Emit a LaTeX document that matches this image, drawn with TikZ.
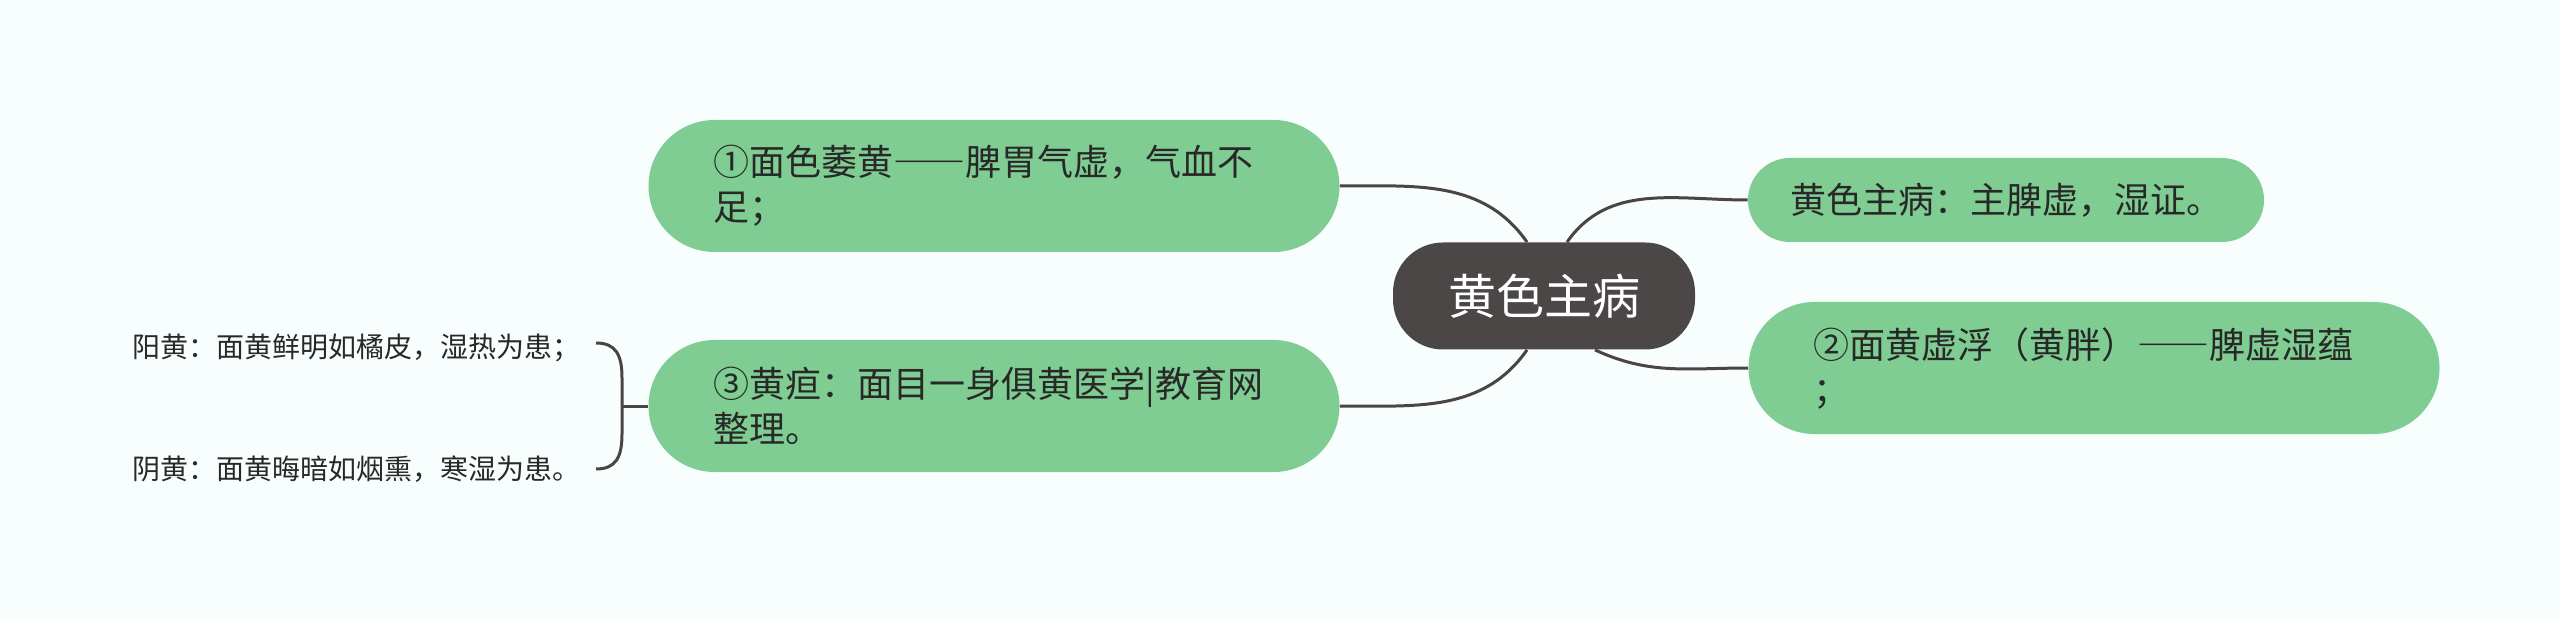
\documentclass[tikz,border=0pt]{standalone}
\usepackage{fontspec}
\setmainfont{Noto Sans CJK SC}
\newcommand{\fwdash}{{\addfontfeature{CharacterWidth=Full}——}}
\definecolor{bgc}{RGB}{248,254,254}
\definecolor{leafgreen}{RGB}{127,205,146}
\definecolor{rootgray}{RGB}{76,71,71}
\definecolor{inkc}{RGB}{40,40,40}
\definecolor{linec}{RGB}{74,68,68}
\tikzset{
  rootblk/.style={draw=none,fill=rootgray,text=white,rounded corners=25pt,minimum width=151pt,minimum height=53.5pt,font=\fontsize{24}{28}\selectfont},
  subblk/.style={draw=none,fill=leafgreen,text=inkc,font=\fontsize{18}{22.5}\selectfont},
  wideblk/.style={subblk,text width=280.5pt,align=left,inner xsep=32.5pt,minimum height=66pt,rounded corners=33pt},
  shortblk/.style={subblk,inner xsep=21pt,minimum height=42pt,rounded corners=21pt},
  leaf/.style={anchor=west,inner sep=0pt,text=inkc,font=\fontsize{14}{16}\selectfont},
  link/.style={draw=linec,line width=1.5pt}
}

\begin{document}
\begin{tikzpicture}[x=0.5pt,y=-0.5pt]
  \fill[bgc] (0,0) rectangle (2560,620);

  \node[rootblk] (root) at (1544,296) {黄色主病};
  \node[wideblk] (face) at (994,186) {①面色萎黄\fwdash 脾胃气虚，气血不\\足；};
  \node[shortblk] (main) at (2006,200) {黄色主病：主脾虚，湿证。};
  \node[wideblk] (puffy) at (2094,368) {②面黄虚浮（黄胖）\fwdash 脾虚湿蕴\\；};
  \node[wideblk] (jaundice) at (994,406) {③黄疸：面目一身俱黄医学|教育网\\整理。};

  \node[leaf] (yang) at (132,348) {阳黄：面黄鲜明如橘皮，湿热为患；};
  \node[leaf] (yin) at (132,469) {阴黄：面黄晦暗如烟熏，寒湿为患。};

  \draw[link] (face.east) to[out=0,in=125] ([xshift=-8.5pt]root.north);
  \draw[link] ([xshift=11.5pt]root.north) to[out=55,in=180] (main.west);
  \draw[link] ([xshift=-8.5pt]root.south) to[out=-125,in=0] (jaundice.east);
  \draw[link] ([xshift=25.5pt]root.south) to[out=-25,in=180] (puffy.west);

  \coordinate (bt) at (596,343);
  \coordinate (bb) at (596,469);
  \coordinate (bm) at (622,406);
  \draw[link] (bt) .. controls (616,343) and (622,355) .. (622,378) -- (622,434) .. controls (622,457) and (616,469) .. (bb);
  \draw[link] (bm) -- (jaundice.west);
\end{tikzpicture}
\end{document}
